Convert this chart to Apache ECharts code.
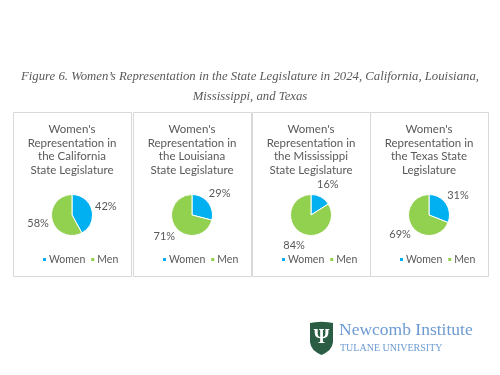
<!DOCTYPE html>
<html>
<head>
<meta charset="utf-8">
<script src="https://cdn.jsdelivr.net/npm/echarts@6/dist/echarts.min.js"></script>
<style>
  html, body { margin: 0; padding: 0; background: #fff; }
  #chart { width: 500px; height: 375px; }
</style>
</head>
<body>
<div id="chart"></div>
<script>
const categories = ['Women', 'Men'];
const states = ['California', 'Louisiana', 'Mississippi', 'Texas'];
const womenPct = [42, 29, 16, 31];
const menPct = [58, 71, 84, 69];
const panelTitles = [
  "Women's\nRepresentation in\nthe California\nState Legislature",
  "Women's\nRepresentation in\nthe Louisiana\nState Legislature",
  "Women's\nRepresentation in\nthe Mississippi\nState Legislature",
  "Women's\nRepresentation in\nthe Texas State\nLegislature",
];
const figureTitle = "Figure 6. Women\u2019s Representation in the State Legislature in 2024, California, Louisiana,\nMississippi, and Texas";

const colors = ['#00B0F0', '#92D050'];
const panelX = [13, 133, 252, 370];
const panelW = 118;
const textGrey = '#595959';

const chart = echarts.init(document.getElementById('chart'));

const series = [];
const labelSeries = [];
const legends = [];
const graphics = [];

states.forEach((st, i) => {
  const cx = panelX[i] + panelW / 2;
  const data = [
    { name: categories[0], value: womenPct[i], itemStyle: { color: colors[0] } },
    { name: categories[1], value: menPct[i], itemStyle: { color: colors[1] } },
  ];
  series.push({
    type: 'pie',
    name: st,
    center: [cx, 215],
    radius: 20.5,
    startAngle: 90,
    clockwise: true,
    label: { show: false },
    labelLine: { show: false },
    itemStyle: { borderColor: '#fff', borderWidth: 1 },
    emphasis: { disabled: true },
    data: data,
  });
  // invisible ring, only there to put the % labels out radially like Excel does
  labelSeries.push({
    type: 'pie',
    name: st + ' labels',
    center: [cx, 215],
    radius: 64,
    startAngle: 90,
    clockwise: true,
    silent: true,
    itemStyle: { color: 'rgba(0,0,0,0)' },
    label: {
      show: true,
      position: 'inside',
      formatter: '{c}%',
      color: textGrey,
      fontSize: 11,
      fontFamily: 'Lato',
    },
    labelLine: { show: false },
    emphasis: { disabled: true },
    data: data.map(d => ({ name: d.name, value: d.value })),
  });
  legends.push({
    data: categories,
    left: cx + 3 - 34,
    top: 254,
    padding: 0,
    icon: 'rect',
    itemWidth: 5,
    itemHeight: 5,
    itemGap: 4,
    selectedMode: false,
    textStyle: { color: textGrey, fontSize: 10.5, fontFamily: 'Lato', padding: [0, 0, 0, -3] },
  });
  graphics.push({
    type: 'rect',
    shape: { x: panelX[i] + 0.5, y: 112.5, width: panelW, height: 164 },
    style: { fill: 'none', stroke: '#D9D9D9', lineWidth: 1 },
    z: -1,
  });
  graphics.push({
    type: 'text',
    x: cx,
    y: 123,
    style: {
      text: panelTitles[i],
      align: 'center',
      verticalAlign: 'top',
      fill: textGrey,
      fontSize: 11.5,
      fontFamily: 'Lato',
      lineHeight: 13.5,
    },
  });
});

// Newcomb Institute logo
graphics.push({
  type: 'polygon',
  shape: {
    points: [[310, 323], [315, 322.2], [321.5, 321.8], [328, 322.2], [333, 323],
      [333, 342], [332, 346], [329.5, 350], [325.5, 353], [321.5, 355],
      [317.5, 353], [313.5, 350], [311, 346], [310, 342]],
  },
  style: { fill: '#2B5D45' },
});
graphics.push({
  type: 'text',
  x: 321.5,
  y: 338,
  style: {
    text: '\u03A8',
    align: 'center',
    verticalAlign: 'middle',
    fill: '#fff',
    fontSize: 20,
    fontWeight: 'bold',
    fontFamily: 'Liberation Serif',
  },
});
graphics.push({
  type: 'text',
  x: 339,
  y: 339,
  style: {
    text: 'Newcomb Institute',
    verticalAlign: 'bottom',
    fill: '#6C9BD2',
    fontSize: 17.5,
    fontFamily: 'Liberation Serif',
  },
});
graphics.push({
  type: 'text',
  x: 340,
  y: 348,
  style: {
    text: 'TULANE UNIVERSITY',
    verticalAlign: 'middle',
    fill: '#6C9BD2',
    fontSize: 10,
    fontFamily: 'Liberation Serif',
  },
});

chart.setOption({
  animation: false,
  backgroundColor: '#fff',
  title: {
    text: figureTitle,
    left: 'center',
    top: 67,
    padding: 0,
    textStyle: {
      fontFamily: 'Liberation Serif',
      fontStyle: 'italic',
      fontWeight: 'normal',
      fontSize: 12.75,
      color: textGrey,
      lineHeight: 20,
    },
  },
  legend: legends,
  graphic: graphics,
  series: series.concat(labelSeries),
});
</script>
</body>
</html>
